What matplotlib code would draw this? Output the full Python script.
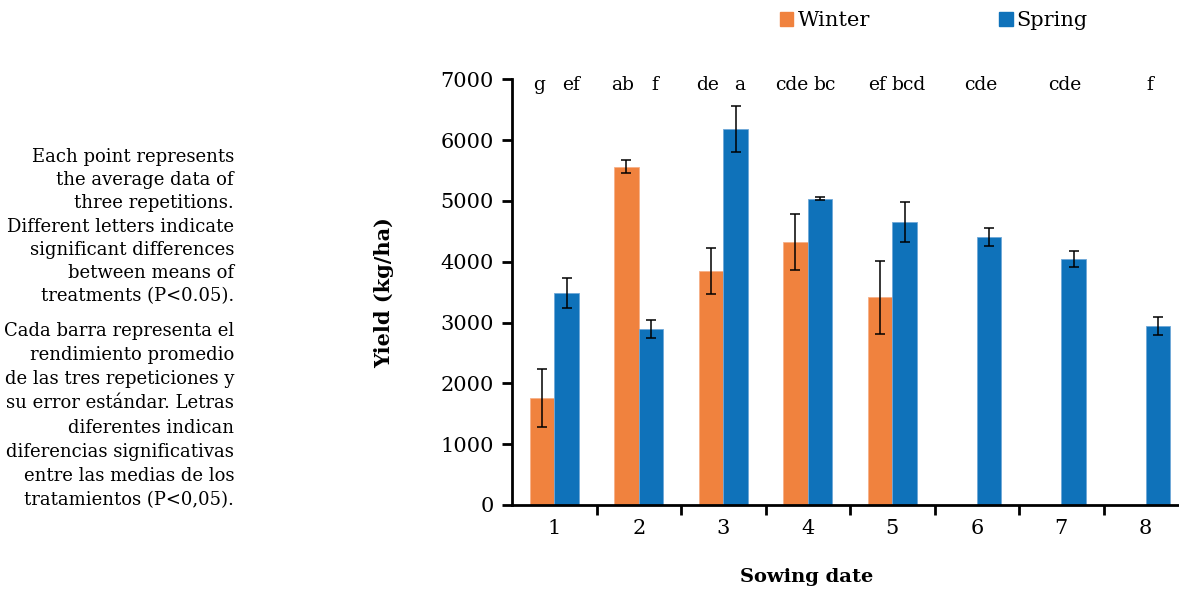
import matplotlib
matplotlib.use('Agg')
import matplotlib.pyplot as plt
from matplotlib.patches import Patch
import numpy as np

# --- data ---
dates = [1, 2, 3, 4, 5, 6, 7, 8]
winter = [1755, 5565, 3850, 4320, 3415]
winter_err = [475, 105, 375, 460, 600]
spring = [3490, 2895, 6190, 5035, 4650, 4410, 4040, 2945]
spring_err = [245, 155, 380, 25, 330, 150, 130, 150]
winter_letters = ['g', 'ab', 'de', 'cde', 'ef']
spring_letters = ['ef', 'f', 'a', 'bc', 'bcd', 'cde', 'cde', 'f']
y_ticks = [0, 1000, 2000, 3000, 4000, 5000, 6000, 7000]

note_en = ("Each point represents\nthe average data of\nthree repetitions.\n"
           "Different letters indicate\nsignificant differences\n"
           "between means of\ntreatments (P<0.05).")
note_es = ("Cada barra representa el\nrendimiento promedio\n"
           "de las tres repeticiones y\nsu error estándar. Letras\n"
           "diferentes indican\ndiferencias significativas\n"
           "entre las medias de los\ntratamientos (P<0,05).")

c_winter = '#F0823E'
c_spring = '#0F72BA'

plt.rcParams['font.family'] = ['DejaVu Serif']

fig = plt.figure(figsize=(11.79, 5.93), dpi=100)
ax = fig.add_axes([512 / 1179, 88 / 593, 667 / 1179, 425.6 / 593])

w = 0.29
x_w = np.array(dates[:len(winter)]) - w / 2
x_s = np.array(dates) + w / 2

ax.bar(x_w, winter, width=w, color=c_winter, edgecolor='#F6B088', linewidth=0.6)
ax.bar(x_s, spring, width=w, color=c_spring, edgecolor='#6FA8D8', linewidth=0.6)
ax.errorbar(x_w, winter, yerr=winter_err, fmt='none', ecolor='black',
            elinewidth=1.1, capsize=3.5, capthick=1.1)
ax.errorbar(x_s, spring, yerr=spring_err, fmt='none', ecolor='black',
            elinewidth=1.1, capsize=3.5, capthick=1.1)

# significance letters along the top
for xi, lab in zip(x_w, winter_letters):
    ax.text(xi - 0.04, 6900, lab, ha='center', va='center', fontsize=13.5)
for i, (xi, lab) in enumerate(zip(x_s, spring_letters)):
    shift = 0.05 if i < len(winter) else -0.1
    ax.text(xi + shift, 6900, lab, ha='center', va='center', fontsize=13.5)

ax.set_xlim(0.5, 0.5 + 667 / 84.5)
ax.set_ylim(0, 7000)
ax.set_yticks(y_ticks)
ax.set_xticks(dates)
ax.set_xticks(np.arange(1.5, 8.5, 1), minor=True)
ax.tick_params(axis='x', which='major', length=0, labelsize=15, pad=10)
ax.tick_params(axis='x', which='minor', length=7, width=2, direction='out')
ax.tick_params(axis='y', length=7, width=2, direction='out', labelsize=15, pad=6)

for side in ['top', 'right']:
    ax.spines[side].set_visible(False)
for side in ['left', 'bottom']:
    ax.spines[side].set_linewidth(2)

ax.set_ylabel('Yield (kg/ha)', fontsize=15, fontweight='bold')
ax.yaxis.set_label_coords(-0.177, 0.5)
ax.set_xlabel('Sowing date', fontsize=14, fontweight='bold')
ax.xaxis.set_label_coords(0.442, -0.147)

handles = [Patch(color=c_winter, label='Winter'), Patch(color=c_spring, label='Spring')]
fig.legend(handles=handles, loc='center', bbox_to_anchor=(0.792, 0.965), ncol=2,
           frameon=False, fontsize=15, handlelength=0.65, handleheight=0.65,
           handletextpad=0.2, columnspacing=6.2)

fig.text(234 / 1179, 1 - 148 / 593, note_en, ha='right', va='top',
         fontsize=13, linespacing=1.37)
fig.text(234 / 1179, 1 - 322 / 593, note_es, ha='right', va='top',
         fontsize=13, linespacing=1.44)

fig.savefig('out.png', dpi=100)
